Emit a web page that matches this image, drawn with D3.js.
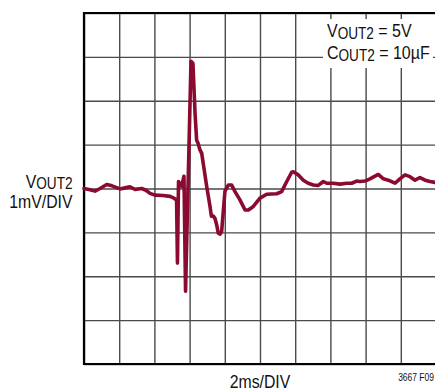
<!DOCTYPE html>
<html><head><meta charset="utf-8">
<script src="https://cdn.jsdelivr.net/npm/d3@7"></script>
<style>
html,body{margin:0;padding:0;background:#fff;}
svg{display:block;}
text{font-family:"Liberation Sans",Arial,sans-serif;fill:#111;}
</style></head>
<body><svg id="c" width="435" height="390"></svg>
<script>
// time in ms (2 ms/div), output deviation in mV (1 mV/div)
const timeMs = [0,0.34,0.625,0.91,1.29,1.59,2.05,2.39,2.61,2.90,3.28,3.52,3.75,4.03,4.49,4.89,5.11,5.26,5.31,5.37,5.55,5.68,5.77,6.08,6.19,6.31,6.40,6.48,6.59,6.69,6.97,7.16,7.24,7.35,7.44,7.54,7.63,7.73,7.82,8.01,8.20,8.39,8.58,8.86,9.15,9.34,9.62,10.0,10.38,10.95,11.23,11.52,11.80,11.89,12.18,12.46,12.74,13.03,13.31,13.60,13.79,14.16,14.55,14.93,15.21,15.49,15.68,15.97,16.25,16.72,17.01,17.29,17.67,17.95,18.24,18.52,18.81,19.09,19.38,19.66,19.94];
const voutMv = [0.0,-0.03,-0.06,0.0,0.09,0.06,-0.01,0.02,0.04,-0.02,0.0,-0.04,-0.11,-0.15,-0.16,-0.18,-0.22,-0.26,-1.70,0.16,0.05,0.28,-2.34,2.90,2.85,1.71,1.10,1.03,0.88,0.80,0.05,-0.41,-0.63,-0.63,-0.68,-0.83,-1.02,-1.04,-0.98,-0.06,0.08,0.08,-0.07,-0.26,-0.49,-0.49,-0.41,-0.22,-0.13,-0.12,-0.07,0.16,0.37,0.38,0.31,0.19,0.12,0.08,0.07,0.16,0.12,0.12,0.10,0.12,0.12,0.17,0.16,0.17,0.22,0.32,0.22,0.19,0.12,0.22,0.31,0.27,0.19,0.25,0.19,0.16,0.14];
const xTicks = [0,2,4,6,8,10,12,14,16,18,20];
const yTicks = [-4,-3,-2,-1,0,1,2,3,4];

const svg = d3.select("#c");
const x = d3.scaleLinear().domain([0,20]).range([84,436]);
const y = d3.scaleLinear().domain([-4,4]).range([364,13]);
const H = 364-13, W = 436-84;

// grid via axes
const gx = svg.append("g").attr("transform","translate(0,364)")
  .call(d3.axisBottom(x).tickValues(xTicks).tickSize(-H).tickFormat(""));
const gy = svg.append("g").attr("transform","translate(84,0)")
  .call(d3.axisLeft(y).tickValues(yTicks).tickSize(-W).tickFormat(""));
[gx,gy].forEach(g=>{
  g.select(".domain").remove();
  g.selectAll(".tick line").attr("stroke","#4a4a4a").attr("stroke-width",1.4);
});

// frame
svg.append("line").attr("x1",84).attr("x2",84).attr("y1",12).attr("y2",365).attr("stroke","#000").attr("stroke-width",2.2);
svg.append("line").attr("x1",83).attr("x2",436).attr("y1",364).attr("y2",364).attr("stroke","#000").attr("stroke-width",2.2);
svg.append("line").attr("x1",83).attr("x2",436).attr("y1",13).attr("y2",13).attr("stroke","#000").attr("stroke-width",1.8);

// annotation box
svg.append("rect").attr("x",323).attr("y",19).attr("width",110).attr("height",49).attr("fill","#fff");

// trace
const data = timeMs.map((t,i)=>[t,voutMv[i]]);
svg.append("path").datum(data)
  .attr("fill","none").attr("stroke","#8a0a30").attr("stroke-width",3.6)
  .attr("stroke-linejoin","round").attr("stroke-linecap","round")
  .attr("d",d3.line().x(d=>x(d[0])).y(d=>y(d[1])));

const SX = 0.85;
function label(px, py, fs, anchor){
  return svg.append("g").attr("transform",`translate(${px},${py}) scale(${SX},1)`)
    .append("text").attr("x",0).attr("y",0).attr("font-size",fs).attr("text-anchor",anchor||"start");
}
function sub(t, main, s, rest, sfs, dy){
  t.append("tspan").text(main);
  t.append("tspan").attr("font-size",sfs).attr("dy",dy).text(s);
  if(rest) t.append("tspan").attr("dy",-dy).text(rest);
}
sub(label(327,36.5,18.8),"V","OUT2"," = 5V",16,2.5);
sub(label(327,58.5,18.8),"C","OUT2"," = 10µF",16,2.5);

sub(label(72.5,187.5,18.6,"end"),"V","OUT2","",16,1.5);
label(72.5,208,18.6,"end").text("1mV/DIV");

label(260,387.5,18.6,"middle").text("2ms/DIV");
label(434,381,10,"end").text("3667 F09");
</script></body></html>
